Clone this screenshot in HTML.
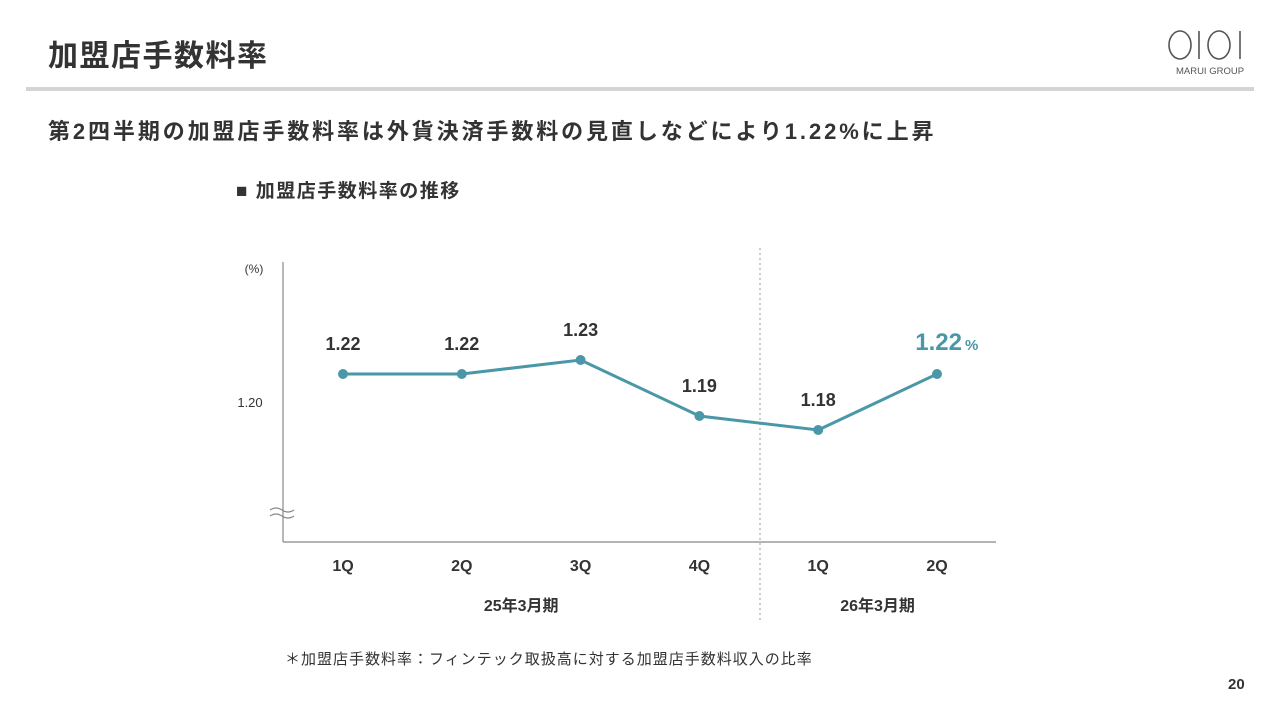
<!DOCTYPE html>
<html><head><meta charset="utf-8">
<style>
body{margin:0;width:1280px;height:720px;background:#fff;font-family:"Liberation Sans","Noto Sans CJK JP",sans-serif;color:#333;position:relative;overflow:hidden}
.a{position:absolute;white-space:nowrap}
</style></head><body>
<div class="a" style="left:48px;top:31px;font-size:30px;letter-spacing:1.5px;font-weight:bold;color:#333">加盟店手数料率</div>
<div style="position:absolute;left:26px;top:87px;width:1228px;height:4px;background:#d4d4d4"></div>
<div class="a" style="left:1162px;top:28px;width:95px;height:52px">
<svg width="95" height="52"><g fill="none" stroke="#555" stroke-width="1.6"><ellipse cx="18" cy="17" rx="11" ry="14"/><line x1="37" y1="3" x2="37" y2="31"/><ellipse cx="57" cy="17" rx="11" ry="14"/><line x1="78" y1="3" x2="78" y2="31"/></g>
<text x="48" y="46" font-size="9.5" fill="#555" text-anchor="middle" font-family="Liberation Sans">MARUI GROUP</text></svg></div>
<div class="a" style="left:48px;top:114px;font-size:22px;letter-spacing:2.9px;font-weight:bold;color:#333">第2四半期の加盟店手数料率は外貨決済手数料の見直しなどにより1.22%に上昇</div>
<div class="a" style="left:236px;top:176px;font-size:19px;letter-spacing:1.5px;font-weight:bold;color:#333">■ 加盟店手数料率の推移</div>
<svg id="chart" class="a" style="left:0;top:0" width="1280" height="720"></svg>
<div class="a" style="left:285px;top:648px;font-size:15px;letter-spacing:1px;color:#333">＊加盟店手数料率：フィンテック取扱高に対する加盟店手数料収入の比率</div>
<div class="a" style="left:1228px;top:676px;font-size:15px;font-weight:bold;color:#333">20</div>
<script>
const categories=["1Q","2Q","3Q","4Q","1Q","2Q"];
const values=[1.22,1.22,1.23,1.19,1.18,1.22];
const labels=["1.22","1.22","1.23","1.19","1.18","1.22"];
const periods=["25年3月期","26年3月期"];
const yTicks=[1.20];
const NS="http://www.w3.org/2000/svg";
const svg=document.getElementById('chart');
const x=i=>343+i*118.8;
const y=v=>402-(v-1.20)*1400;
function mk(t,a,txt){const e=document.createElementNS(NS,t);for(const k in a)e.setAttribute(k,a[k]);if(txt!=null)e.textContent=txt;svg.appendChild(e);return e;}
let e;
e=mk('line',{x1:283,y1:262,x2:283,y2:542,stroke:'#888','stroke-width':1.2});

e=mk('line',{x1:283,y1:542,x2:996,y2:542,stroke:'#888','stroke-width':1.2});

e=mk('path',{d:'M270,510 q6,-4 12,0 t12,0 M270,516 q6,-4 12,0 t12,0',fill:'none',stroke:'#888','stroke-width':1.2});

e=mk('line',{x1:760,y1:248,x2:760,y2:620,stroke:'#aaa','stroke-width':1.2,'stroke-dasharray':'2,3'});

e=mk('text',{x:254,y:273,'font-size':12,fill:'#333','text-anchor':'middle'},'(%)');

yTicks.forEach(t=>{e=mk('text',{x:250,y:y(t)+5,'font-size':13,fill:'#333','text-anchor':'middle'},t.toFixed(2));
});
e=mk('polyline',{points:values.map((v,i)=>x(i)+','+y(v)).join(' '),fill:'none',stroke:'#4a97a8','stroke-width':3});

values.forEach((v,i)=>{
e=mk('circle',{cx:x(i),cy:y(v),r:5,fill:'#4a97a8'});

const last=i===values.length-1;
e=mk('text',{x:x(i)+(last?25:0),y:y(v)-24,'font-size':last?24:18,'font-weight':'bold',fill:last?'#4a97a8':'#333','text-anchor':last?'end':'middle'},labels[i]);

if(last){e=mk('text',{x:x(i)+28,y:y(v)-24,'font-size':15,'font-weight':'bold',fill:'#4a97a8','text-anchor':'start'},'%');
}
e=mk('text',{x:x(i),y:571,'font-size':16,'font-weight':'bold',fill:'#333','text-anchor':'middle'},categories[i]);

});
[(x(0)+x(3))/2,(x(4)+x(5))/2].forEach((cx,k)=>{
e=mk('text',{x:cx,y:611,'font-size':16,'font-weight':'bold',fill:'#333','text-anchor':'middle'},periods[k]);
});
</script>
</body></html>
